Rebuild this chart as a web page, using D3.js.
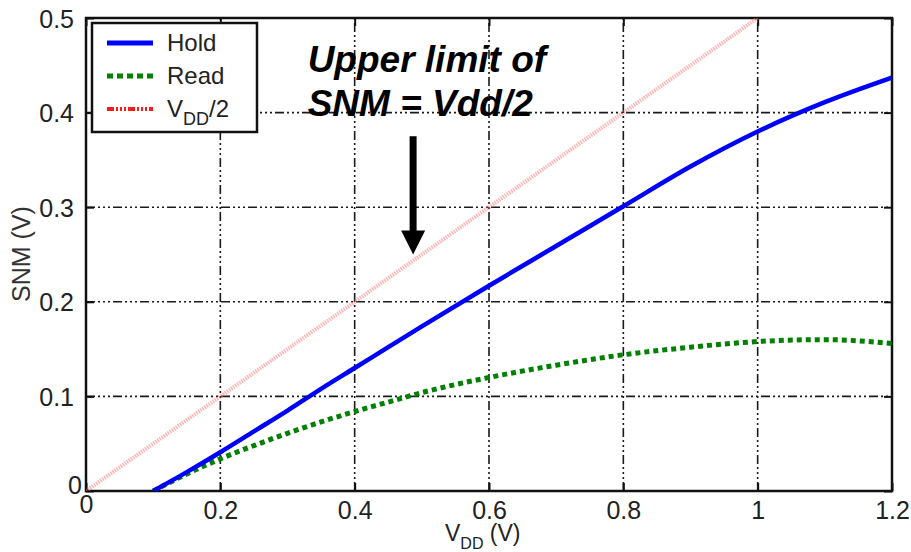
<!DOCTYPE html>
<html><head><meta charset="utf-8">
<script src="https://cdn.jsdelivr.net/npm/d3@7"></script>
<style>
html,body{margin:0;padding:0;background:#fff;}
text{font-family:"Liberation Sans",Arial,sans-serif;}
</style></head>
<body><svg id="c" width="911" height="552"></svg>
<script>
// ---- data ----
const vdd      = [0.1, 0.15, 0.2, 0.25, 0.3, 0.35, 0.4, 0.45, 0.5, 0.6, 0.7, 0.8, 0.9, 1.0, 1.1, 1.2];
const holdSNM  = [0, 0.020, 0.041, 0.063, 0.085, 0.108, 0.130, 0.152, 0.174, 0.217, 0.259, 0.301, 0.343, 0.380, 0.411, 0.437];
const readSNM  = [0, 0.018, 0.034, 0.048, 0.061, 0.073, 0.084, 0.094, 0.104, 0.120, 0.133, 0.144, 0.152, 0.158, 0.160, 0.156];
const vddHalfX = [0, 0.2, 0.4, 0.6, 0.8, 1.0];
const vddHalfY = [0, 0.1, 0.2, 0.3, 0.4, 0.5];
const xTicks = [0, 0.2, 0.4, 0.6, 0.8, 1, 1.2];
const yTicks = [0, 0.1, 0.2, 0.3, 0.4, 0.5];
const xTickLabels = ["0", "0.2", "0.4", "0.6", "0.8", "1", "1.2"];
const yTickLabels = ["0", "0.1", "0.2", "0.3", "0.4", "0.5"];
const annotLines = ["Upper limit of", "SNM = Vdd/2"];
const annotPos = {x: 0.330, y: [0.443, 0.396]};
const arrow = {x: 0.487, from: 0.375, to: 0.25};

// ---- layout ----
const W = 911, H = 552;
const m = {l: 86, t: 18, r: 19, b: 61};
const svg = d3.select("#c");
const x = d3.scaleLinear().domain([0, 1.2]).range([m.l, W - m.r]);
const y = d3.scaleLinear().domain([0, 0.5]).range([H - m.b, m.t]);
const FONT = "'Liberation Sans', Arial, sans-serif";

svg.append("defs").append("clipPath").attr("id", "pc")
  .append("rect").attr("x", m.l).attr("y", m.t).attr("width", x(1.2) - m.l).attr("height", y(0) - m.t);

// gridlines
const gridDash = "9,3,2,3,2,3,2,3";
svg.append("g").selectAll("line").data(xTicks.filter(d => d > 0 && d < 1.2)).join("line")
  .attr("x1", d => x(d)).attr("x2", d => x(d)).attr("y1", y(0)).attr("y2", y(0.5))
  .attr("stroke", "#1a1a1a").attr("stroke-width", 1.6).attr("stroke-dasharray", gridDash);
svg.append("g").selectAll("line").data(yTicks.filter(d => d > 0 && d < 0.5)).join("line")
  .attr("y1", d => y(d)).attr("y2", d => y(d)).attr("x1", x(0)).attr("x2", x(1.2))
  .attr("stroke", "#1a1a1a").attr("stroke-width", 1.6).attr("stroke-dasharray", gridDash);

// axes (inward ticks on all sides)
const fmtX = (d, i) => xTickLabels[i];
const fmtY = (d, i) => yTickLabels[i];
const gx = svg.append("g").attr("transform", `translate(0,${y(0)})`)
  .call(d3.axisBottom(x).tickValues(xTicks).tickFormat(fmtX).tickSizeInner(-8).tickSizeOuter(0).tickPadding(10));
const gy = svg.append("g").attr("transform", `translate(${x(0)},0)`)
  .call(d3.axisLeft(y).tickValues(yTicks).tickFormat(fmtY).tickSizeInner(-8).tickSizeOuter(0).tickPadding(12));
const gt = svg.append("g").attr("transform", `translate(0,${y(0.5)})`)
  .call(d3.axisTop(x).tickValues(xTicks).tickFormat("").tickSizeInner(-8).tickSizeOuter(0));
const gr = svg.append("g").attr("transform", `translate(${x(1.2)},0)`)
  .call(d3.axisRight(y).tickValues(yTicks).tickFormat("").tickSizeInner(-8).tickSizeOuter(0));
[gx, gy, gt, gr].forEach(g => {
  g.select(".domain").remove();
  g.selectAll(".tick line").attr("stroke", "#111").attr("stroke-width", 2);
  g.selectAll("text").attr("font-size", 25).attr("fill", "#222").attr("font-family", FONT);
});
gx.selectAll("text").attr("dy", "0.71em");
gy.selectAll("text").attr("dy", "0.36em");
gy.selectAll(".tick").filter(d => d === 0).select("text").attr("dy", "0.1em").attr("x", -4);
gx.selectAll(".tick").filter(d => d === 0).select("text").attr("y", 4);

// frame
svg.append("rect").attr("x", x(0)).attr("y", y(0.5)).attr("width", x(1.2) - x(0)).attr("height", y(0) - y(0.5))
  .attr("fill", "none").attr("stroke", "#111").attr("stroke-width", 2.5);

// series
const line = d3.line().x(d => x(d[0])).y(d => y(d[1])).curve(d3.curveMonotoneX);
const plot = svg.append("g").attr("clip-path", "url(#pc)");
plot.append("path").datum(vddHalfX.map((v, i) => [v, vddHalfY[i]]))
  .attr("d", d3.line().x(d => x(d[0])).y(d => y(d[1])))
  .attr("fill", "none").attr("stroke", "#ff7070").attr("stroke-width", 4).attr("stroke-opacity", 0.5)
  .attr("stroke-dasharray", "1.5,1");
plot.append("path").datum(vdd.map((v, i) => [v, readSNM[i]]))
  .attr("d", line).attr("fill", "none").attr("stroke", "#008000").attr("stroke-width", 5)
  .attr("stroke-dasharray", "5,4");
plot.append("path").datum(vdd.map((v, i) => [v, holdSNM[i]]))
  .attr("d", line).attr("fill", "none").attr("stroke", "#0000ff").attr("stroke-width", 4.5);

// axis titles
const xl = svg.append("text").attr("x", 445).attr("y", 541).attr("font-size", 23).attr("fill", "#222");
xl.append("tspan").text("V");
xl.append("tspan").attr("font-size", 16).attr("dy", 8).text("DD");
xl.append("tspan").attr("dy", -8).text(" (V)");
svg.append("text").attr("transform", "translate(30,254) rotate(-90)").attr("text-anchor", "middle")
  .attr("font-size", 25).attr("fill", "#333").text("SNM (V)");

// legend
const lg = svg.append("g");
lg.append("rect").attr("x", 92).attr("y", 23).attr("width", 165).attr("height", 109)
  .attr("fill", "#fff").attr("stroke", "#111").attr("stroke-width", 2.5);
const legendItems = [
  {name: "Hold", color: "#0000ff", width: 5, dash: null},
  {name: "Read", color: "#008000", width: 5, dash: "6,4"},
  {name: "VDD/2", color: "#ff1a1a", width: 4, dash: "7,2,2,2,2,2,2,2"}
];
legendItems.forEach((it, i) => {
  const cy = 43 + i * 33;
  lg.append("line").attr("x1", 107).attr("x2", 153).attr("y1", cy).attr("y2", cy)
    .attr("stroke", it.color).attr("stroke-width", it.width).attr("stroke-dasharray", it.dash);
  const t = lg.append("text").attr("x", 167).attr("y", cy + 8).attr("font-size", 24).attr("fill", "#222");
  if (it.name === "VDD/2") {
    t.append("tspan").text("V");
    t.append("tspan").attr("font-size", 18).attr("dy", 8).text("DD");
    t.append("tspan").attr("dy", -8).text("/2");
  } else t.text(it.name);
});

// annotation
annotLines.forEach((s, i) => {
  svg.append("text").attr("x", x(annotPos.x)).attr("y", y(annotPos.y[i]))
    .attr("font-size", 37).attr("font-weight", "bold").attr("font-style", "italic").attr("fill", "#000").text(s);
});
const ax = x(arrow.x), ay = y(arrow.to);
svg.append("line").attr("x1", ax).attr("x2", ax).attr("y1", y(arrow.from)).attr("y2", ay - 22)
  .attr("stroke", "#000").attr("stroke-width", 7);
svg.append("path").attr("d", `M${ax - 12},${ay - 24}L${ax + 12},${ay - 24}L${ax},${ay}Z`).attr("fill", "#000");
</script></body></html>
